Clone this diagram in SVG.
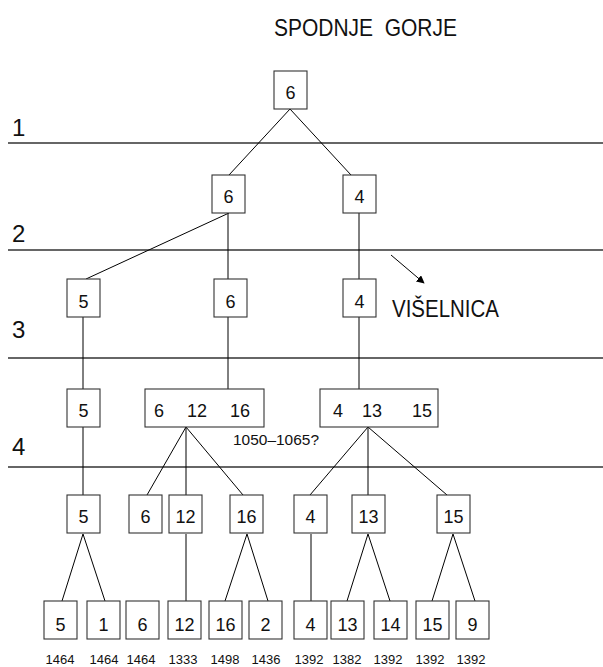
<svg xmlns="http://www.w3.org/2000/svg" width="603" height="667" viewBox="0 0 603 667">
<style>
.bx rect{fill:#fff;stroke:#333;stroke-width:1.1}
.bx text{font-family:"Liberation Sans",Arial,sans-serif;font-size:18px;fill:#111;text-anchor:middle}
.lvl{stroke:#333;stroke-width:1.3}
.lab{font-family:"Liberation Sans",Arial,sans-serif;font-size:24px;fill:#111}
.yr{font-family:"Liberation Sans",Arial,sans-serif;font-size:13px;fill:#111;text-anchor:middle}
#connectors line{stroke:#000;stroke-width:1}
</style>
<defs>
<marker id="ah" viewBox="0 0 10 10" refX="9" refY="5" markerWidth="8" markerHeight="8" orient="auto" markerUnits="userSpaceOnUse"><path d="M0,0 L10,5 L0,10 z" fill="#000"/></marker>
</defs>
<rect width="603" height="667" fill="#fff"/>
<text x="274" y="36" font-family="Liberation Sans,Arial,sans-serif" font-size="24" textLength="183" lengthAdjust="spacingAndGlyphs" fill="#111" xml:space="preserve">SPODNJE  GORJE</text>
<g id="levels">
<line class="lvl" x1="8" y1="143" x2="603" y2="143"/>
<line class="lvl" x1="8" y1="250" x2="603" y2="250"/>
<line class="lvl" x1="8" y1="358" x2="603" y2="358"/>
<line class="lvl" x1="8" y1="467" x2="603" y2="467"/>
<text class="lab" x="12" y="136">1</text>
<text class="lab" x="12" y="242">2</text>
<text class="lab" x="12" y="338">3</text>
<text class="lab" x="12" y="455">4</text>
</g>
<g id="connectors">
<line x1="290" y1="109" x2="229" y2="175"/>
<line x1="290" y1="109" x2="351" y2="175"/>
<line x1="229" y1="213" x2="86" y2="279"/>
<line x1="228" y1="213" x2="228" y2="279"/>
<line x1="359" y1="213" x2="359" y2="279"/>
<line x1="83" y1="317" x2="83" y2="389"/>
<line x1="228" y1="317" x2="228" y2="389"/>
<line x1="359" y1="317" x2="359" y2="389"/>
<line x1="186" y1="427" x2="147" y2="495"/>
<line x1="186" y1="427" x2="186" y2="495"/>
<line x1="186" y1="427" x2="243" y2="495"/>
<line x1="368" y1="427" x2="310" y2="495"/>
<line x1="368" y1="427" x2="368" y2="495"/>
<line x1="368" y1="427" x2="447" y2="495"/>
<line x1="83" y1="427" x2="83" y2="495"/>
<line x1="83" y1="534" x2="62" y2="601"/>
<line x1="83" y1="534" x2="105" y2="601"/>
<line x1="186" y1="534" x2="186" y2="601"/>
<line x1="247" y1="534" x2="225" y2="601"/>
<line x1="247" y1="534" x2="268" y2="601"/>
<line x1="311" y1="534" x2="311" y2="601"/>
<line x1="368" y1="534" x2="347" y2="601"/>
<line x1="368" y1="534" x2="390" y2="601"/>
<line x1="453" y1="534" x2="432" y2="601"/>
<line x1="453" y1="534" x2="475" y2="601"/>
<line x1="391" y1="255" x2="424" y2="283" marker-end="url(#ah)"/>
</g>
<text x="392" y="317" font-family="Liberation Sans,Arial,sans-serif" font-size="23" textLength="107" lengthAdjust="spacingAndGlyphs" fill="#111">VIŠELNICA</text>
<text x="233" y="445" font-family="Liberation Sans,Arial,sans-serif" font-size="14" textLength="86" lengthAdjust="spacingAndGlyphs" fill="#111">1050–1065?</text>
<g id="n1" class="bx"><rect x="274" y="71" width="33" height="38"/><text x="290.5" y="99">6</text></g>
<g id="n2a" class="bx"><rect x="212" y="175" width="33" height="38"/><text x="228.5" y="203">6</text></g>
<g id="n2b" class="bx"><rect x="343" y="175" width="33" height="38"/><text x="359.5" y="203">4</text></g>
<g id="n3a" class="bx"><rect x="67" y="279" width="33" height="38"/><text x="83.5" y="308">5</text></g>
<g id="n3b" class="bx"><rect x="214" y="279" width="33" height="38"/><text x="230.5" y="308">6</text></g>
<g id="n3c" class="bx"><rect x="343" y="279" width="33" height="38"/><text x="359.5" y="308">4</text></g>
<g id="n4a" class="bx"><rect x="67" y="389" width="33" height="38"/><text x="83.5" y="417">5</text></g>
<g id="n4b" class="bx"><rect x="145" y="389" width="119" height="38"/><text x="159" y="417">6</text><text x="197" y="417">12</text><text x="240" y="417">16</text></g>
<g id="n4c" class="bx"><rect x="320" y="389" width="118" height="38"/><text x="338" y="417">4</text><text x="372" y="417">13</text><text x="422" y="417">15</text></g>
<g id="n5a" class="bx"><rect x="67" y="495" width="33" height="38"/><text x="83.5" y="523">5</text></g>
<g id="n5b" class="bx"><rect x="129" y="495" width="33" height="38"/><text x="145.5" y="523">6</text></g>
<g id="n5c" class="bx"><rect x="169" y="495" width="33" height="38"/><text x="185.5" y="523">12</text></g>
<g id="n5d" class="bx"><rect x="230" y="495" width="33" height="38"/><text x="246.5" y="523">16</text></g>
<g id="n5e" class="bx"><rect x="294" y="495" width="33" height="38"/><text x="310.5" y="523">4</text></g>
<g id="n5f" class="bx"><rect x="352" y="495" width="33" height="38"/><text x="368.5" y="523">13</text></g>
<g id="n5g" class="bx"><rect x="437" y="495" width="33" height="38"/><text x="453.5" y="523">15</text></g>
<g id="n6a" class="bx"><rect x="44" y="601" width="33" height="38"/><text x="60.5" y="631">5</text></g>
<g id="n6b" class="bx"><rect x="87" y="601" width="33" height="38"/><text x="103.5" y="631">1</text></g>
<g id="n6c" class="bx"><rect x="126" y="601" width="33" height="38"/><text x="142.5" y="631">6</text></g>
<g id="n6d" class="bx"><rect x="168" y="601" width="33" height="38"/><text x="184.5" y="631">12</text></g>
<g id="n6e" class="bx"><rect x="209" y="601" width="33" height="38"/><text x="225.5" y="631">16</text></g>
<g id="n6f" class="bx"><rect x="249" y="601" width="33" height="38"/><text x="265.5" y="631">2</text></g>
<g id="n6g" class="bx"><rect x="294" y="601" width="33" height="38"/><text x="310.5" y="631">4</text></g>
<g id="n6h" class="bx"><rect x="331" y="601" width="33" height="38"/><text x="347.5" y="631">13</text></g>
<g id="n6i" class="bx"><rect x="374" y="601" width="33" height="38"/><text x="390.5" y="631">14</text></g>
<g id="n6j" class="bx"><rect x="416" y="601" width="33" height="38"/><text x="432.5" y="631">15</text></g>
<g id="n6k" class="bx"><rect x="456" y="601" width="33" height="38"/><text x="472.5" y="631">9</text></g>
<g id="years">
<text class="yr" x="60" y="664">1464</text>
<text class="yr" x="104" y="664">1464</text>
<text class="yr" x="141" y="664">1464</text>
<text class="yr" x="183" y="664">1333</text>
<text class="yr" x="225" y="664">1498</text>
<text class="yr" x="266" y="664">1436</text>
<text class="yr" x="309" y="664">1392</text>
<text class="yr" x="347" y="664">1382</text>
<text class="yr" x="388" y="664">1392</text>
<text class="yr" x="430" y="664">1392</text>
<text class="yr" x="471" y="664">1392</text>
</g>
</svg>
